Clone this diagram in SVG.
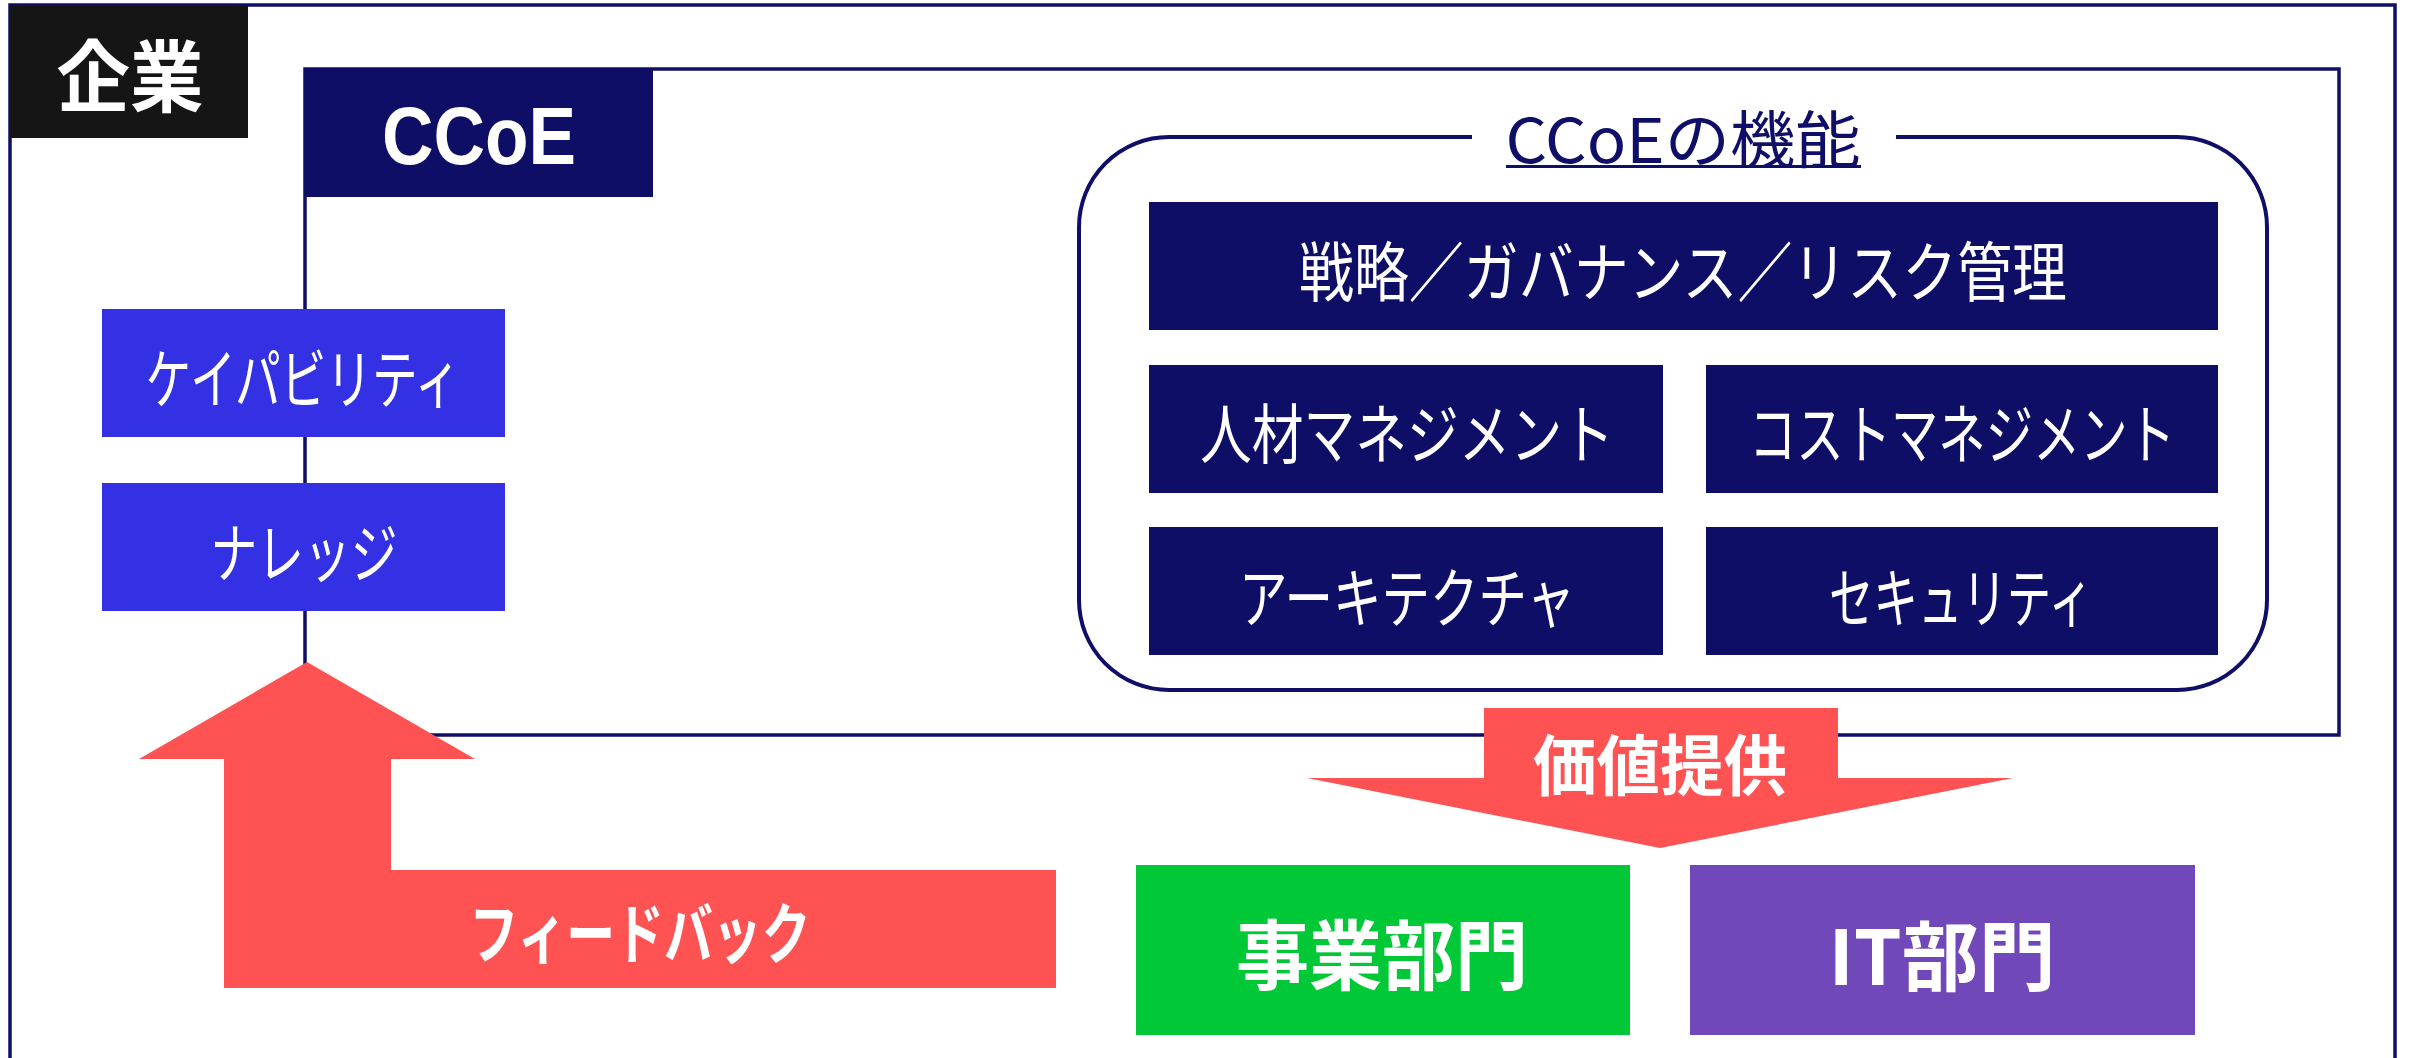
<svg xmlns="http://www.w3.org/2000/svg" width="2410" height="1058" viewBox="0 0 2410 1058">
<style>
.frame{fill:none;stroke:#0F0E68;stroke-width:3.5}
.navy{fill:#0F0E66}
.blue{fill:#3430E3}
.red{fill:#FF5252}
.jp{font-family:"Noto Sans CJK JP","Noto Sans CJK SC",sans-serif;fill:#fff;text-anchor:middle;dominant-baseline:central}
.lbl{font-size:65px;font-weight:400}
.bold{font-weight:700}
</style>
<rect width="2410" height="1058" fill="#fff"/>
<g id="enterprise">
<rect class="frame" x="10" y="5" width="2385" height="1080"/>
<rect x="10" y="5" width="238" height="133" fill="#151515"/>
<text class="jp bold" x="130" y="72" font-size="78" textLength="147" lengthAdjust="spacingAndGlyphs">企業</text>
</g>
<g id="ccoe">
<rect class="frame" x="305" y="69" width="2034" height="666"/>
<rect class="navy" x="304" y="68" width="349" height="129"/>
<text x="479" y="164" font-family="Liberation Sans, Arial, sans-serif" font-weight="700" font-size="81" fill="#fff" text-anchor="middle" textLength="194" lengthAdjust="spacingAndGlyphs">CCoE</text>
</g>
<g id="capability">
<rect class="blue" x="102" y="309" width="403" height="128"/>
<text class="jp lbl" x="303" y="375" textLength="315" lengthAdjust="spacingAndGlyphs">ケイパビリティ</text>
</g>
<g id="knowledge">
<rect class="blue" x="102" y="483" width="403" height="128"/>
<text class="jp lbl" x="304" y="549" textLength="187" lengthAdjust="spacingAndGlyphs">ナレッジ</text>
</g>
<g id="functions">
<rect x="1079" y="137" width="1188" height="553" rx="90" ry="90" fill="none" stroke="#0F0E68" stroke-width="4"/>
<rect x="1472" y="125" width="424" height="24" fill="#fff"/>
<text x="1683" y="136" font-family="Noto Sans CJK JP, sans-serif" font-size="62" fill="#0F0E68" text-anchor="middle" dominant-baseline="central" textLength="355" lengthAdjust="spacingAndGlyphs">CCoEの機能</text>
<rect x="1506" y="165" width="355" height="3" fill="#0F0E68"/>
</g>
<g id="strategy">
<rect class="navy" x="1149" y="202" width="1069" height="128"/>
<text class="jp lbl" x="1683" y="268" textLength="768" lengthAdjust="spacingAndGlyphs">戦略／ガバナンス／リスク管理</text>
</g>
<g id="hr">
<rect class="navy" x="1149" y="365" width="514" height="128"/>
<text class="jp lbl" x="1407" y="430" textLength="414" lengthAdjust="spacingAndGlyphs">人材マネジメント</text>
</g>
<g id="cost">
<rect class="navy" x="1706" y="365" width="512" height="128"/>
<text class="jp lbl" x="1962" y="430" textLength="426" lengthAdjust="spacingAndGlyphs">コストマネジメント</text>
</g>
<g id="architecture">
<rect class="navy" x="1149" y="527" width="514" height="128"/>
<text class="jp lbl" x="1407" y="594" textLength="336" lengthAdjust="spacingAndGlyphs">アーキテクチャ</text>
</g>
<g id="security">
<rect class="navy" x="1706" y="527" width="512" height="128"/>
<text class="jp lbl" x="1961" y="594" textLength="264" lengthAdjust="spacingAndGlyphs">セキュリティ</text>
</g>
<g id="connectors">
<polygon class="red" points="307,662 475,759 391,759 391,870 1056,870 1056,988 224,988 224,759 139,759"/>
<text class="jp bold" x="640" y="929" font-size="66" textLength="341" lengthAdjust="spacingAndGlyphs">フィードバック</text>
<polygon class="red" points="1484,708 1838,708 1838,778 2013,778 1660,848 1307,778 1484,778"/>
<text class="jp bold" x="1660" y="761" font-size="66" textLength="254" lengthAdjust="spacingAndGlyphs">価値提供</text>
</g>
<g id="business">
<rect x="1136" y="865" width="494" height="170" fill="#00C837"/>
<text class="jp bold" x="1382" y="951" font-size="76" textLength="292" lengthAdjust="spacingAndGlyphs">事業部門</text>
</g>
<g id="it">
<rect x="1690" y="865" width="505" height="170" fill="#7048BA"/>
<text class="jp bold" x="1942" y="952" font-size="76" textLength="227" lengthAdjust="spacingAndGlyphs">IT部門</text>
</g>
</svg>
